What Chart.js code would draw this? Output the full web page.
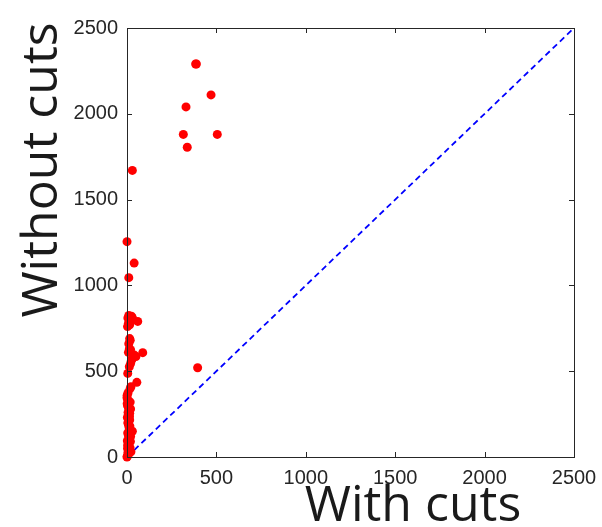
<!DOCTYPE html>
<html>
<head>
<meta charset="utf-8">
<script src="https://cdn.jsdelivr.net/npm/chart.js@4"></script>
<style>
  html, body { margin: 0; padding: 0; background: #fff; }
  #wrap { width: 602px; height: 527px; }
</style>
</head>
<body>
<div id="wrap"><canvas id="cutsChart" width="602" height="527"></canvas></div>
<script>
// Values
const withCuts = [
    384, 388, 470, 330, 315, 505, 337, 395,
    30, 0, 40, 10,
    10, 25, 5, 18, 30, 60, 8, 15, 22, 3,
    15, 18, 13, 20, 88, 41, 50, 26, 30, 13, 4, 55, 18, 22, 0, 5, 10, 8, 20,
    3, 8, 12, 6, 10, 2, 15, 5, 9, 12, 30, 18, 4, 8, 14, 2, 10, 6, 3, 12, 5, 8, 2, 0,
    18, 20, 1, 14, 7, 16, 20, 11, 4, 17, 22, 9, 1, 15, 19, 6
];
const withoutCuts = [
    2290, 2290, 2110, 2040, 1880, 1880, 1805, 520,
    1670, 1255, 1130, 1045,
    825, 820, 810, 800, 812, 790, 780, 770, 795, 760,
    690, 680, 630, 625, 608, 594, 585, 565, 575, 526, 487, 435, 400, 410, 345, 330, 660, 610, 545,
    300, 290, 275, 260, 245, 230, 215, 200, 185, 170, 150, 150, 140, 125, 110, 95, 80, 65, 50, 40, 25, 15, 5, 0,
    320, 280, 310, 235, 195, 180, 120, 100, 70, 55, 30, 20, 360, 255, 90, 375
];
const diagonal = [0, 2500];
const tickValues = [0, 500, 1000, 1500, 2000, 2500];

const axisColor = '#262626';

// MATLAB style box with inward ticks plus the two big axis labels
const boxPlugin = {
    id: 'boxPlugin',
    afterDraw(chart) {
        const ctx = chart.ctx;
        const a = chart.chartArea;
        const xs = chart.scales.x, ys = chart.scales.y;
        ctx.save();
        ctx.strokeStyle = axisColor;
        ctx.lineWidth = 1;
        ctx.strokeRect(Math.round(a.left) + 0.5, Math.round(a.top) + 0.5,
            Math.round(a.right - a.left), Math.round(a.bottom - a.top));
        ctx.beginPath();
        tickValues.forEach(v => {
            const px = Math.round(xs.getPixelForValue(v)) + 0.5;
            ctx.moveTo(px, a.bottom); ctx.lineTo(px, a.bottom - 5);
            ctx.moveTo(px, a.top); ctx.lineTo(px, a.top + 5);
            const py = Math.round(ys.getPixelForValue(v)) + 0.5;
            ctx.moveTo(a.left, py); ctx.lineTo(a.left + 5, py);
            ctx.moveTo(a.right, py); ctx.lineTo(a.right - 5, py);
        });
        ctx.stroke();

        ctx.fillStyle = '#1a1a1a';
        ctx.font = '50px "Open Sans"';
        ctx.textAlign = 'center';
        ctx.textBaseline = 'alphabetic';
        ctx.fillText('With cuts', 413, 521);
        ctx.translate(57, 170);
        ctx.rotate(-Math.PI / 2);
        ctx.fillText('Without cuts', 0, 0);
        ctx.restore();
    }
};

const tickFont = { family: '"Liberation Sans", Arial', size: 20 };

const ctx = document.getElementById('cutsChart').getContext('2d');
new Chart(ctx, {
    type: 'scatter',
    data: {
        datasets: [{
            data: withCuts.map((x, i) => ({ x: x, y: withoutCuts[i] })),
            backgroundColor: '#ff0000',
            borderColor: '#ff0000',
            pointRadius: 4.5,
            pointBorderWidth: 0,
            clip: false
        }, {
            data: diagonal.map(v => ({ x: v, y: v })),
            showLine: true,
            borderColor: '#0000ff',
            borderWidth: 1.8,
            borderDash: [6, 4],
            pointRadius: 0
        }]
    },
    options: {
        responsive: false,
        animation: false,
        layout: { padding: { top: 28, right: 28, left: 0, bottom: 0 } },
        plugins: {
            legend: { display: false },
            tooltip: { enabled: false }
        },
        scales: {
            x: {
                type: 'linear', min: 0, max: 2500,
                grid: { display: false, drawTicks: false },
                border: { display: false },
                afterFit: s => {
                    s.height = 527 - 457;
                    s.paddingLeft = 0;
                    s.paddingRight = 0;
                },
                afterBuildTicks: s => { s.ticks = tickValues.map(v => ({ value: v })); },
                ticks: {
                    padding: 9, color: axisColor, font: tickFont,
                    callback: v => String(v)
                }
            },
            y: {
                type: 'linear', min: 0, max: 2500,
                grid: { display: false, drawTicks: false },
                border: { display: false },
                afterFit: s => {
                    s.width = 127;
                    s.paddingTop = 0;
                    s.paddingBottom = 0;
                },
                afterBuildTicks: s => { s.ticks = tickValues.map(v => ({ value: v })); },
                ticks: {
                    padding: 9, color: axisColor, font: tickFont,
                    callback: v => String(v)
                }
            }
        }
    },
    plugins: [boxPlugin]
});
</script>
</body>
</html>
